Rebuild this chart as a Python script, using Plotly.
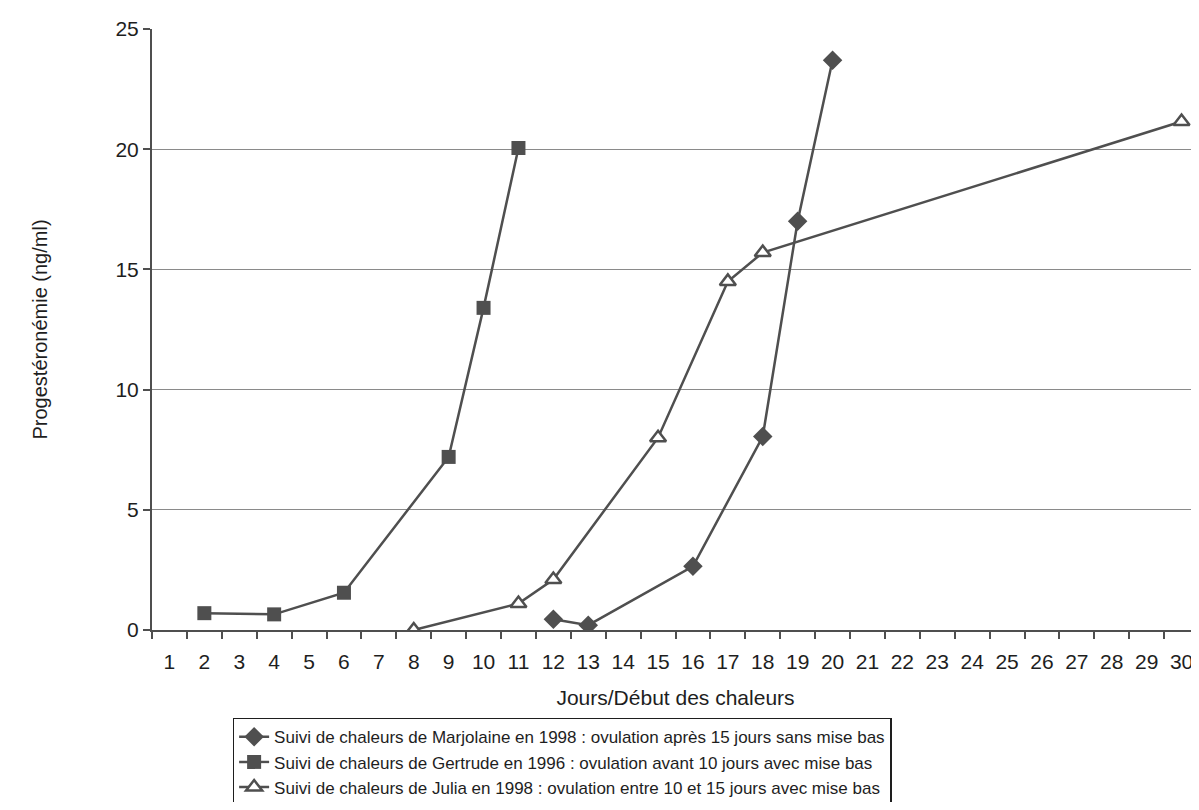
import plotly.graph_objects as go

# Days (x categories) and progesterone values (ng/ml)
days = [str(d) for d in range(1, 31)]

marjolaine_x = ["12", "13", "16", "18", "19", "20"]
marjolaine_y = [0.45, 0.2, 2.65, 8.05, 17.0, 23.7]

gertrude_x = ["2", "4", "6", "9", "10", "11"]
gertrude_y = [0.7, 0.65, 1.55, 7.2, 13.4, 20.05]

julia_x = ["8", "11", "12", "15", "17", "18", "30"]
julia_y = [0.0, 1.1, 2.1, 8.0, 14.5, 15.7, 21.15]

names = [
    "Suivi de chaleurs de Marjolaine en 1998 : ovulation après 15 jours sans mise bas",
    "Suivi de chaleurs de Gertrude en 1996 : ovulation avant 10 jours avec mise bas",
    "Suivi de chaleurs de Julia en 1998 : ovulation entre 10 et 15 jours avec mise bas",
]

line_col = "#4f4f4f"
font = "Liberation Sans, Arial, sans-serif"

fig = go.Figure()
fig.add_trace(go.Scatter(
    x=marjolaine_x, y=marjolaine_y, mode="lines+markers", name=names[0],
    line=dict(color=line_col, width=2.5),
    marker=dict(symbol="diamond", size=15, color=line_col),
))
fig.add_trace(go.Scatter(
    x=gertrude_x, y=gertrude_y, mode="lines+markers", name=names[1],
    line=dict(color=line_col, width=2.5),
    marker=dict(symbol="square", size=14, color=line_col),
))
fig.add_trace(go.Scatter(
    x=julia_x, y=julia_y, mode="lines+markers", name=names[2],
    line=dict(color=line_col, width=2.5),
    marker=dict(symbol="triangle-up", size=14, color="white",
                line=dict(color=line_col, width=2.5)),
))

# page has an 8px body margin, so the figure is sized/offset to land like the reference
fig.update_layout(
    width=1191, height=794,
    margin=dict(l=144, r=0, t=21, b=172, autoexpand=False),
    paper_bgcolor="white", plot_bgcolor="white",
    font=dict(family=font, color="#1e1e1e"),
    xaxis=dict(
        type="category", categoryorder="array", categoryarray=days,
        range=[-0.5, 29.5], autorange=False, automargin=False,
        tickson="boundaries", ticks="outside", ticklen=7, tickcolor=line_col,
        tickwidth=1.5, showgrid=False, showline=True, linecolor=line_col,
        linewidth=2, tickfont=dict(size=21), ticklabelstandoff=12,
        title=dict(text="Jours/Début des chaleurs", font=dict(size=21), standoff=18),
    ),
    yaxis=dict(
        range=[0, 25], dtick=5, ticks="outside", ticklen=7, tickcolor=line_col,
        tickwidth=1.5, showgrid=True, gridcolor="#8a8a8a", gridwidth=1,
        showline=True, linecolor=line_col, linewidth=2, zeroline=False,
        tickfont=dict(size=21), automargin=False,
        title=dict(text="Progestéronémie (ng/ml)", font=dict(size=20), standoff=62),
    ),
    legend=dict(
        x=0.077, y=-0.146, xanchor="left", yanchor="top",
        bordercolor="#1e1e1e", borderwidth=1.5, bgcolor="white",
        font=dict(size=17), itemwidth=30, tracegroupgap=0,
    ),
    shapes=[dict(type="line", xref="paper", yref="paper", x0=1, x1=1, y0=0, y1=1,
                 line=dict(color="#bbbbbb", width=1))],
)

fig.write_html("out.html")
